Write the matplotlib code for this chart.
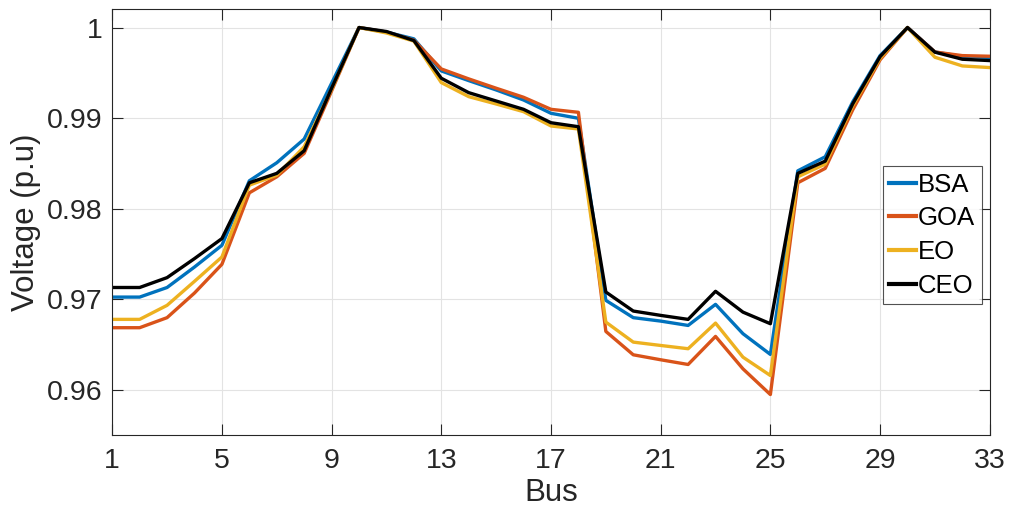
import matplotlib.pyplot as plt
import numpy as np

plt.rcParams["font.family"] = ["Liberation Sans", "DejaVu Sans"]

bus = np.arange(1, 34)

bsa = [0.97024, 0.97024, 0.9713, 0.97356, 0.97596, 0.98308, 0.98507, 0.98769, 0.99385, 1.0,
       0.9995, 0.99875, 0.99521, 0.99414, 0.99311, 0.99200, 0.99053, 0.98998, 0.96988, 0.96797,
       0.96759, 0.96711, 0.96944, 0.9662, 0.96391, 0.98418, 0.98573, 0.99178, 0.9969, 1.0,
       0.9973, 0.9968, 0.9967]
goa = [0.96686, 0.96686, 0.96797, 0.97069, 0.97386, 0.98175, 0.98352, 0.98611, 0.9930, 1.0,
       0.9995, 0.9986, 0.99543, 0.99433, 0.9933, 0.9923, 0.99097, 0.99064, 0.96645, 0.96387,
       0.96332, 0.9628, 0.9659, 0.96232, 0.95948, 0.98286, 0.98445, 0.9909, 0.99643, 1.0,
       0.9973, 0.9969, 0.99683]
eo = [0.96778, 0.96778, 0.96933, 0.97198, 0.97467, 0.9826, 0.9837, 0.98684, 0.9932, 1.0,
      0.9994, 0.9985, 0.99392, 0.99237, 0.99156, 0.99071, 0.98913, 0.9888, 0.96748, 0.96527,
      0.9649, 0.96454, 0.96737, 0.96361, 0.96158, 0.98352, 0.98492, 0.99134, 0.99661, 1.0,
      0.99672, 0.99576, 0.99558]
ceo = [0.9713, 0.9713, 0.97239, 0.97449, 0.9767, 0.98286, 0.9839, 0.9864, 0.9933, 1.0,
       0.99956, 0.99856, 0.9944, 0.99281, 0.99189, 0.99097, 0.98949, 0.98905, 0.9708, 0.9687,
       0.96822, 0.96778, 0.97088, 0.96858, 0.9673, 0.9839, 0.98525, 0.99156, 0.99679, 1.0,
       0.99728, 0.9965, 0.99635]

series = [("BSA", bsa, "#0072BD"), ("GOA", goa, "#D95319"), ("EO", eo, "#EDB120"), ("CEO", ceo, "black")]
xticks = [1, 5, 9, 13, 17, 21, 25, 29, 33]
yticks = [0.96, 0.97, 0.98, 0.99, 1.0]
yticklabels = ["0.96", "0.97", "0.98", "0.99", "1"]

fig = plt.figure(figsize=(10.11, 5.23), dpi=100)
ax = fig.add_axes([0.111, 0.168, 0.868, 0.814])
for name, vals, color in series:
    ax.plot(bus, vals, color=color, linewidth=2.4, label=name)

ax.set_xlim(1, 33)
ax.set_ylim(0.955, 1.002)
ax.set_xticks(xticks)
ax.set_yticks(yticks)
ax.set_yticklabels(yticklabels)
ax.grid(True, color="#e3e3e3", linewidth=0.8)
ax.set_axisbelow(True)
ax.tick_params(direction="in", length=8, width=0.8, labelsize=20.5, top=True, right=True, colors="#262626")
ax.tick_params(axis="x", pad=9)
ax.tick_params(axis="y", pad=7)
for s in ax.spines.values():
    s.set_color("#262626")
    s.set_linewidth(0.8)
ax.set_xlabel("Bus", fontsize=22.5, color="#262626", labelpad=3)
ax.set_ylabel("Voltage (p.u)", fontsize=22.5, color="#262626", labelpad=4)

leg = ax.legend(loc="upper right", bbox_to_anchor=(0.9909, 0.632), fontsize=18.5, frameon=True,
                fancybox=False, edgecolor="#262626", handlelength=1.05, handletextpad=0.08,
                borderpad=0.25, labelspacing=0.38, borderaxespad=0)
leg.get_frame().set_linewidth(0.8)
for line in leg.get_lines():
    line.set_linewidth(3)

fig.savefig("out.png", dpi=100)
